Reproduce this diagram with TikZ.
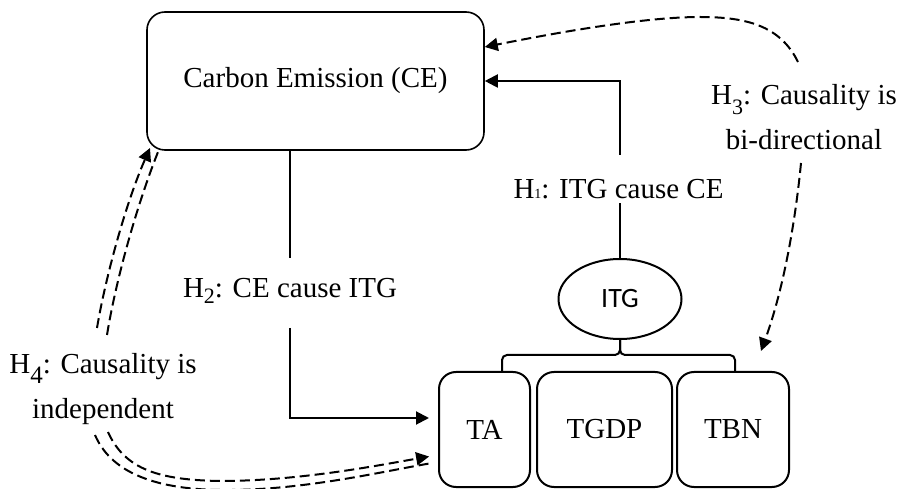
\documentclass[tikz,border=0pt]{standalone}
\usepackage{fontspec}
\setmainfont{Liberation Serif}
\newfontfamily\calibfont{Carlito}
\usetikzlibrary{arrows.meta,shapes.geometric}
\newcommand\hsub[3]{\raisebox{-#1pt}{\fontsize{#2}{#2}\selectfont #3}}
\begin{document}
\begin{tikzpicture}[x=1pt,y=-1pt,
  txt/.style={font=\fontsize{29}{45}\selectfont, inner sep=0pt},
  rbox/.style={draw, line width=2pt, rounded corners=17pt, inner sep=0pt, font=\fontsize{29}{35}\selectfont},
  conn/.style={line width=2pt},
  dconn/.style={line width=2pt, dash pattern=on 10pt off 5pt},
  tip/.style={-{Triangle[length=13pt,width=13pt]}}
]
\useasboundingbox (0,0) rectangle (898,489);
% boxes
\node[rbox, line width=1.6pt, rounded corners=18pt, minimum width=337pt, minimum height=138pt] (CE) at (315.5,81) {Carbon Emission (CE)};
\node[rbox, minimum width=91pt, minimum height=115pt] (TA) at (484.5,429.5) {TA};
\node[rbox, minimum width=135pt, minimum height=115pt] (TGDP) at (604.5,429.5) {TGDP};
\node[rbox, minimum width=112pt, minimum height=115pt] (TBN) at (733,429.5) {TBN};
\node[draw, ellipse, line width=2pt, minimum width=123pt, minimum height=80pt, inner sep=0pt, font=\calibfont\fontsize{28}{28}\selectfont] (ITG) at (620,299) {ITG};
% labels
\node[txt, anchor=base] (H1) at (618.5,199) {H\hsub{0}{14}{1}: ITG cause CE};
\node[txt, anchor=base] (H2) at (290,298) {H\hsub{6}{22}{2}: CE cause ITG};
\node[txt, align=center] (H3) at (804,117) {H\hsub{10}{22}{3}: Causality is\\bi-directional};
\node[txt, align=center] (H4) at (103,389) {H\hsub{10}{25}{4}: Causality is\\independent};
% coordinates
\coordinate (h1a) at (620,155);
\coordinate (h1b) at (620,203);
\coordinate (h2a) at (290,258);
\coordinate (h2b) at (290,328);
\coordinate (h3a) at (798,62);
\coordinate (h3b) at (801,163);
\coordinate (h3tip) at (761,351);
\coordinate (h4a) at (97,328);
\coordinate (h4b) at (107,335);
\coordinate (h4c) at (95,435);
\coordinate (h4d) at (108,432);
\coordinate (h4t) at (150,148);
\coordinate (h4e) at (158,152);
\coordinate (bl) at (502,372);
\coordinate (br) at (735,372);
\coordinate (bj) at (620,355);
% H1
\draw[conn] (ITG.north) -- (h1b);
\draw[conn,tip] (h1a) |- (CE.east);
% H2
\draw[conn] (CE.south -| h2a) -- (h2a);
\draw[conn,tip,shorten >=9pt] (h2b) |- ([yshift=11.5pt]TA.west);
% H3
\draw[dconn,tip] (h3a) .. controls (780,25) and (745,17) .. (700,17) .. controls (640,17) and (545,35) .. ([yshift=34pt]CE.east);
\draw[dconn,tip] (h3b) .. controls (796,215) and (785,285) .. (h3tip);
% H4
\draw[dconn,tip] (h4a) .. controls (105,280) and (125,205) .. (h4t);
\draw[dconn] (h4b) .. controls (115,285) and (135,210) .. (h4e);
\draw[dconn,tip,shorten >=9pt] (h4d) .. controls (125,470) and (160,480) .. (220,481) .. controls (300,481) and (380,465) .. ([yshift=-25.5pt]TA.west);
\draw[dconn,shorten >=9pt] (h4c) .. controls (110,470) and (150,489) .. (220,490) .. controls (300,491) and (380,472) .. ([yshift=-32.5pt]TA.west);
% bracket
\draw[conn, rounded corners=5pt] (bl) |- (bj) -- (ITG.south);
\draw[conn, rounded corners=5pt] (br) |- (bj) -- (ITG.south);
\end{tikzpicture}
\end{document}
